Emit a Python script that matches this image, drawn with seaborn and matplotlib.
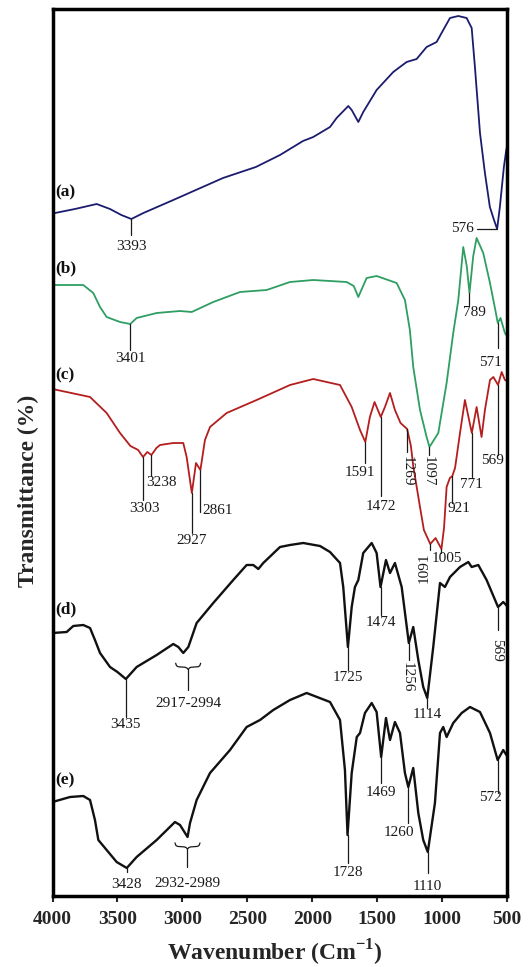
import numpy as np
import pandas as pd
import matplotlib
matplotlib.use("Agg")
import matplotlib.pyplot as plt
import seaborn as sns

# ---------------- spectra (wavenumber in cm-1, stacked transmittance) ----------------
wn_a = [4000, 3981, 3827, 3660, 3557, 3470, 3393, 3300, 3070, 2687, 2434, 2248, 2071, 1992,
        1863, 1812, 1722, 1696, 1645, 1607, 1504, 1376, 1273, 1196, 1119, 1042, 991, 939,
        875, 811, 772, 747, 708, 670, 632, 600, 576, 555, 524, 508, 500]
T_a = [683, 683, 687, 692, 687, 681, 677, 683, 696, 718, 729, 741, 755, 759,
       769, 778, 790, 786, 774, 784, 806, 824, 834, 837, 849, 854, 866, 878,
       880, 878, 868, 829, 763, 723, 689, 676, 667, 689, 729, 744, 750]

wn_b = [4000, 3763, 3686, 3634, 3583, 3480, 3401, 3352, 3198, 3018, 2928, 2762, 2556, 2351,
        2171, 1992, 1735, 1680, 1645, 1581, 1504, 1350, 1286, 1248, 1222, 1170, 1119, 1097,
        1029, 965, 914, 875, 837, 810, 789, 760, 734, 683, 631, 590, 571, 550, 516, 500]
T_b = [611, 611, 603, 589, 579, 574, 572, 578, 583, 585, 584, 594, 604, 606,
       614, 616, 614, 610, 599, 618, 620, 613, 596, 566, 529, 486, 459, 449,
       463, 513, 563, 596, 649, 630, 603, 640, 658, 643, 613, 586, 573, 578, 563, 560]

wn_c = [4000, 3711, 3583, 3480, 3400, 3340, 3303, 3270, 3238, 3200, 3172, 3070, 2993, 2967,
        2927, 2895, 2861, 2826, 2787, 2659, 2428, 2171, 1992, 1786, 1696, 1632, 1591, 1556,
        1520, 1472, 1440, 1401, 1363, 1320, 1269, 1240, 1222, 1170, 1140, 1091, 1050, 1005,
        985, 965, 940, 921, 900, 862, 824, 771, 734, 696, 670, 631, 605, 569, 541, 516, 500]
T_c = [507, 499, 483, 463, 450, 446, 439, 444, 441, 448, 451, 453, 453, 439,
       403, 433, 426, 456, 469, 483, 496, 511, 517, 511, 489, 466, 454, 479,
       494, 479, 489, 503, 486, 473, 467, 450, 430, 389, 366, 352, 358, 347,
       368, 409, 418, 420, 428, 463, 496, 463, 489, 459, 486, 516, 519, 511, 524, 516, 515]

wn_d = [4000, 3891, 3840, 3763, 3711, 3673, 3634, 3557, 3500, 3435, 3352, 3198, 3070, 3031,
        2993, 2954, 2890, 2762, 2608, 2505, 2454, 2415, 2377, 2248, 2171, 2069, 1940, 1863,
        1786, 1761, 1725, 1696, 1671, 1645, 1607, 1542, 1504, 1474, 1432, 1401, 1363, 1311,
        1256, 1222, 1183, 1145, 1114, 1068, 1016, 978, 939, 862, 798, 772, 721, 657, 569,
        529, 500]
T_d = [263, 264, 270, 271, 268, 256, 243, 229, 224, 217, 229, 241, 252, 249,
       243, 249, 273, 293, 316, 331, 331, 327, 333, 349, 351, 353, 350, 344,
       333, 309, 249, 289, 309, 316, 343, 353, 343, 309, 336, 323, 333, 309,
       253, 269, 236, 209, 198, 249, 313, 309, 319, 329, 334, 329, 331, 316, 289,
       294, 290]

wn_e = [4000, 3865, 3763, 3711, 3673, 3647, 3583, 3506, 3428, 3352, 3198, 3057, 3018, 2960,
        2941, 2890, 2787, 2633, 2505, 2402, 2300, 2171, 2043, 1863, 1786, 1748, 1728, 1696,
        1657, 1632, 1594, 1542, 1504, 1469, 1432, 1401, 1363, 1324, 1286, 1260, 1222, 1183,
        1145, 1110, 1055, 1016, 991, 965, 914, 849, 785, 708, 631, 572, 529, 500]
T_e = [94, 99, 100, 96, 76, 56, 46, 34, 28, 39, 56, 74, 71, 59,
       73, 96, 123, 146, 169, 176, 186, 196, 203, 194, 176, 126, 61, 123,
       159, 163, 183, 193, 184, 139, 178, 156, 174, 163, 123, 109, 128, 83,
       56, 44, 93, 163, 169, 159, 173, 183, 189, 184, 163, 136, 146, 140]

samples = ["(a)", "(b)", "(c)", "(d)", "(e)"]
colors = ["#1c1c6e", "#2e9e62", "#b41e1e", "#111111", "#111111"]
series = [(wn_a, T_a), (wn_b, T_b), (wn_c, T_c), (wn_d, T_d), (wn_e, T_e)]

# labelled band positions per spectrum
peaks_a = [3393, 576]
peaks_b = [3401, 789, 571, 1097]
peaks_c = [3303, 3238, 2927, 2861, 1591, 1472, 1269, 921, 771, 569, 1091, 1005]
peaks_d = [3435, 1725, 1474, 1256, 1114, 569]
peaks_e = [3428, 1728, 1469, 1260, 1110, 572]
band_d = (2917, 2994)
band_e = (2932, 2989)

x_ticks = [4000, 3500, 3000, 2500, 2000, 1500, 1000, 500]

frames = []
for name, (wn, t) in zip(samples, series):
    frames.append(pd.DataFrame({"wavenumber": wn, "T": t, "sample": name}))
df = pd.concat(frames, ignore_index=True)

# ---------------- figure ----------------
sns.set_style("white")
plt.rcParams["font.family"] = ["Liberation Serif", "DejaVu Serif"]
plt.rcParams["mathtext.fontset"] = "custom"
plt.rcParams["mathtext.rm"] = "Liberation Serif"
plt.rcParams["mathtext.bf"] = "Liberation Serif:bold"

W, H = 528, 967
fig = plt.figure(figsize=(W / 100, H / 100), dpi=100)
ax = fig.add_axes([52.5 / W, 1 - 896 / H, 454.5 / W, 887 / H])

sns.lineplot(data=df, x="wavenumber", y="T", hue="sample", palette=dict(zip(samples, colors)),
             estimator=None, sort=False, legend=False, ax=ax, linewidth=1.5)
for line, lw in zip(ax.get_lines(), [1.3, 1.3, 1.3, 1.7, 1.7]):
    line.set_linewidth(lw)

ax.set_xlim(4000, 500)
ax.set_ylim(0, 887)
ax.set_xticks(x_ticks)
ax.set_xticklabels([str(v) for v in x_ticks], fontsize=14, fontweight="bold")
ax.set_yticks([])
ax.tick_params(axis="x", direction="out", length=4, width=1.5, pad=7, bottom=True)
for sp in ax.spines.values():
    sp.set_visible(True)
    sp.set_linewidth(2.5)
    sp.set_color("black")

ax.set_xlabel("Wavenumber (Cm$^{\\mathbf{-1}}$)", fontsize=17, fontweight="bold")
ax.xaxis.set_label_coords(0.4895, -0.047)
ax.set_ylabel("Transmittance (%)", fontsize=17, fontweight="bold")
ax.yaxis.set_label_coords(-0.030, 0.4566)

ink = "#1a1a1a"
px_w = 3500 / 454.5  # wavenumber units per pixel


def curve_value(wn, t, w):
    return float(np.interp(w, wn[::-1], t[::-1]))


def peak_label(wn, t, w, line_drop, text_drop, dx=0, rot=0, ha="center"):
    y0 = curve_value(wn, t, w)
    ax.plot([w, w], [y0, y0 - line_drop], color=ink, lw=0.9)
    ax.annotate(str(w), xy=(w, y0 - text_drop), xytext=(dx, 0), textcoords="offset pixels",
                ha=ha, va="center", rotation=rot, fontsize=11, color=ink)


def band_label(wn, t, band, top_drop, stem_drop, text_drop):
    mid = (band[0] + band[1]) / 2
    y0 = curve_value(wn, t, mid)
    top = y0 - top_drop
    s = np.array([-1, -0.93, -0.8, -0.55, -0.25, -0.1, 0])
    h = np.array([0, -0.5, -0.7, -0.75, -0.8, -0.95, -1.25])
    xs = np.concatenate([s, -s[::-1]]) * 12.5 * px_w + mid
    ys = np.concatenate([h, h[::-1]]) * 5 + top
    ax.plot(xs, ys, color=ink, lw=0.9)
    ax.plot([mid, mid], [top - 6, y0 - stem_drop], color=ink, lw=0.9)
    ax.text(mid, y0 - text_drop, f"{band[0]}-{band[1]}", ha="center", va="center",
            fontsize=11, color=ink)


# (a)
peak_label(wn_a, T_a, peaks_a[0], 16, 27)
ya = curve_value(wn_a, T_a, peaks_a[1])
ax.plot([peaks_a[1], peaks_a[1] + 20 * px_w], [ya, ya], color=ink, lw=0.9)
ax.annotate(str(peaks_a[1]), xy=(peaks_a[1] + 20 * px_w, ya), xytext=(-3, 0),
            textcoords="offset pixels", ha="right", va="center", fontsize=11, color=ink)

# (b)
b_layout = [(26, 34, 0, 0), (12, 19.5, 5, 0), (25, 39, -7, 0), (8, 24, -1, 270)]
for w, (ld, td, dx, rot) in zip(peaks_b, b_layout):
    peak_label(wn_b, T_b, w, ld, td, dx, rot)

# (c)
c_layout = [(43, 52, 1.6, 0, "center"), (21, 28, 10, 0, "center"), (40, 48, 0, 0, "center"),
            (42, 40, 2, 0, "left"), (21, 31, -5, 0, "center"), (79, 90, 0, 0, "center"),
            (23, 42, 0, 270, "center"), (27, 33, 7, 0, "center"), (44, 52, 0, 0, "center"),
            (70, 76, -6, 0, "center"), (6, 23.5, -6, 90, "center"), (4, 9, 5, 0, "center")]
for w, (ld, td, dx, rot, ha) in zip(peaks_c, c_layout):
    peak_label(wn_c, T_c, w, ld, td, dx, rot, ha)

# (d)
d_layout = [(38, 46, 0, 0), (23, 30.5, 0, 0), (28, 35.5, 0, 0), (17, 34.5, -2, 270),
            (10, 16, 0, 0), (23, 43.5, -1, 270)]
for w, (ld, td, dx, rot) in zip(peaks_d, d_layout):
    peak_label(wn_d, T_d, w, ld, td, dx, rot)
band_label(wn_d, T_d, band_d, 16, 43, 56)

# (e)
e_layout = [(4, 16, 0, 0), (28, 38, 0, 0), (26, 35.5, 0, 0), (36, 46, -9, 0),
            (21, 35, 0, 0), (33, 37.5, -7, 0)]
for w, (ld, td, dx, rot) in zip(peaks_e, e_layout):
    peak_label(wn_e, T_e, w, ld, td, dx, rot)
band_label(wn_e, T_e, band_e, 6, 30, 46.5)

# sample tags
for name, y in zip(samples, [704, 628, 521, 287, 115.5]):
    ax.annotate(name, xy=(4000, y), xytext=(3, 0), textcoords="offset pixels",
                ha="left", va="center", fontsize=12.5, fontweight="bold", color="#111111")

fig.savefig("out.png", dpi=100)
